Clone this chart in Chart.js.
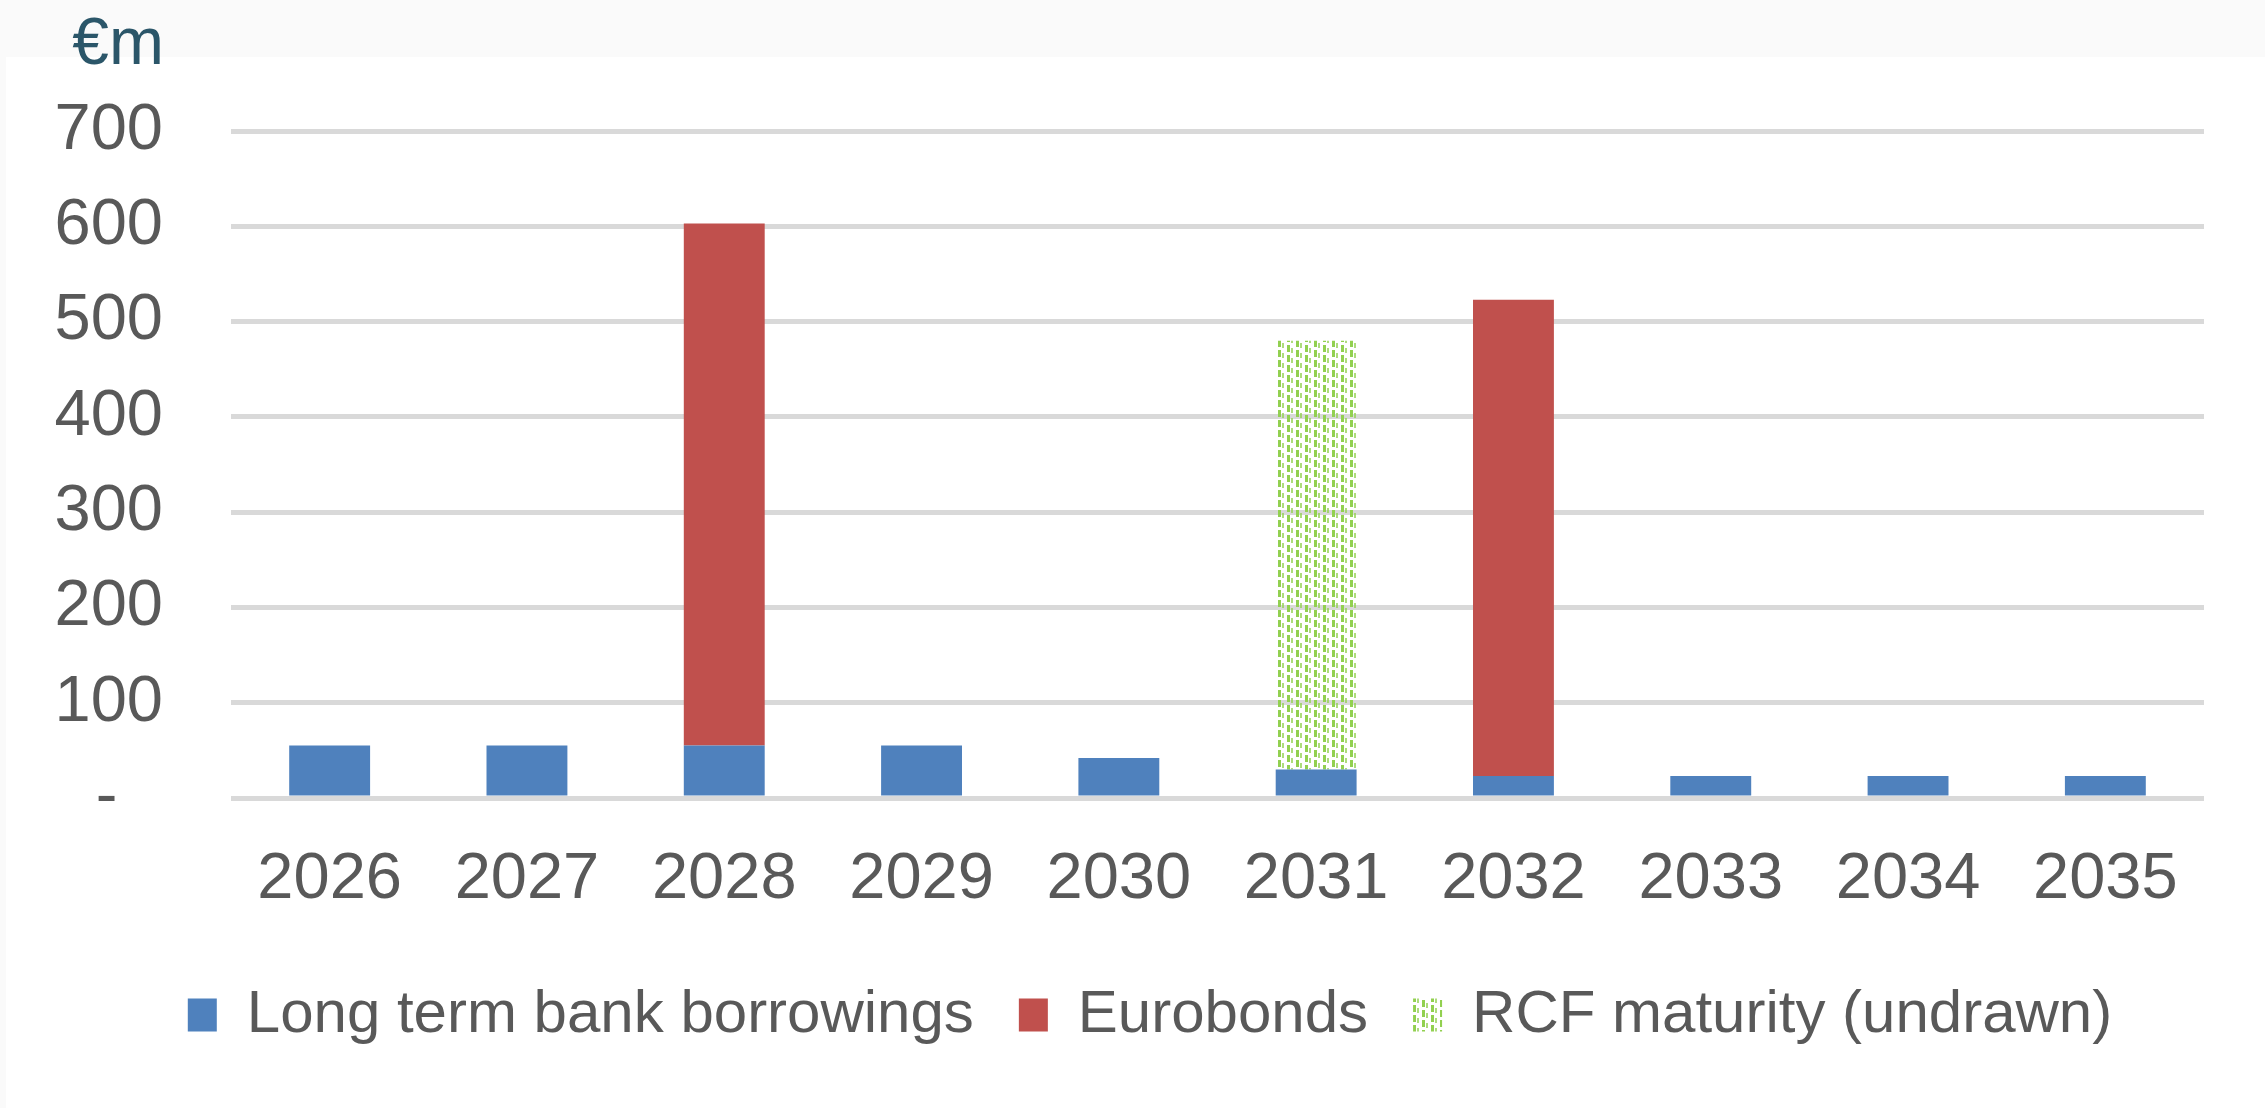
<!DOCTYPE html>
<html>
<head>
<meta charset="utf-8">
<script src="https://cdn.jsdelivr.net/npm/chart.js@4.4.1/dist/chart.umd.min.js"></script>
<style>
  html, body { margin: 0; padding: 0; background: #fafafa; }
  #wrap { position: relative; width: 2265px; height: 1108px; }
</style>
</head>
<body>
<div id="wrap"><canvas id="chart" width="2265" height="1108"></canvas></div>
<script>
// ── data ──
const years = ['2026', '2027', '2028', '2029', '2030', '2031', '2032', '2033', '2034', '2035'];
const bankBorrowings = [55, 55, 55, 55, 42, 30, 23, 23, 23, 23];
const eurobonds      = [null, null, 548, null, null, null, 500, null, null, null];
const rcfUndrawn     = [null, null, null, null, null, 450, null, null, null, null];
const yTicks = [0, 100, 200, 300, 400, 500, 600, 700];

const FONT = "'Liberation Sans', Arial, sans-serif";
const TEXT = '#595959';

// dotted green pattern for the undrawn RCF
function rcfPattern() {
  const c = document.createElement('canvas');
  c.width = 18; c.height = 10;
  const g = c.getContext('2d');
  g.fillStyle = '#92d050';
  g.fillRect(0, 0, 3, 7);
  g.fillRect(9, 5, 3, 5);
  g.fillRect(9, 0, 3, 2);
  g.fillStyle = 'rgba(146,208,80,0.75)';
  g.fillRect(4, 3, 2, 5);
  g.fillRect(13, 0, 2, 3);
  g.fillRect(13, 8, 2, 2);
  return g.createPattern(c, 'repeat');
}

// background panels + the "€m" unit label + legend nudge
const backdrop = {
  id: 'backdrop',
  afterLayout(chart) {
    // legend sits a little right of the canvas centre in the original
    chart.legend.left += 48;
    chart.legend.right += 48;
  },
  beforeDraw(chart) {
    const ctx = chart.ctx;
    ctx.save();
    ctx.fillStyle = '#fafafa';
    ctx.fillRect(0, 0, chart.width, chart.height);
    ctx.fillStyle = '#ffffff';
    ctx.fillRect(6, 57, chart.width - 6, chart.height - 57);
    ctx.restore();
  },
  afterDraw(chart) {
    const ctx = chart.ctx;
    ctx.save();
    ctx.font = '66px ' + FONT;
    ctx.fillStyle = '#2b5669';
    ctx.textAlign = 'right';
    ctx.textBaseline = 'alphabetic';
    ctx.fillText('€m', 164, 64);
    ctx.restore();
  }
};

new Chart(document.getElementById('chart'), {
  type: 'bar',
  data: {
    labels: years,
    datasets: [
      { label: 'Long term bank borrowings', data: bankBorrowings, backgroundColor: '#4f81bd' },
      { label: 'Eurobonds',                 data: eurobonds,      backgroundColor: '#c0504d' },
      { label: 'RCF maturity (undrawn)',    data: rcfUndrawn,     backgroundColor: rcfPattern() },
    ],
  },
  options: {
    responsive: false,
    animation: false,
    categoryPercentage: 1,
    barPercentage: 0.41,
    layout: { padding: { top: 131, right: 61, bottom: 53, left: 0 } },
    plugins: {
      tooltip: { enabled: false },
      legend: {
        position: 'bottom',
        labels: {
          color: TEXT,
          font: { family: FONT, size: 60 },
          boxWidth: 29, boxHeight: 33,
          padding: 45,
        },
      },
    },
    scales: {
      x: {
        stacked: true,
        grid: { display: false, drawTicks: false },
        border: { display: false },
        ticks: { color: TEXT, font: { family: FONT, size: 65 }, padding: 43 },
        afterFit: s => { s.height = 142; },
      },
      y: {
        stacked: true,
        min: 0, max: 700,
        afterBuildTicks: s => { s.ticks = yTicks.map(v => ({ value: v })); },
        grid: { color: '#d9d9d9', lineWidth: 5, drawTicks: false },
        border: { display: false },
        ticks: {
          color: TEXT,
          font: { family: FONT, size: 65 },
          padding: 68,
          callback: v => v === 0 ? '-\u2002\u2009' : v,
        },
        afterFit: s => { s.width = 231; },
      },
    },
  },
  plugins: [backdrop],
});
</script>
</body>
</html>
